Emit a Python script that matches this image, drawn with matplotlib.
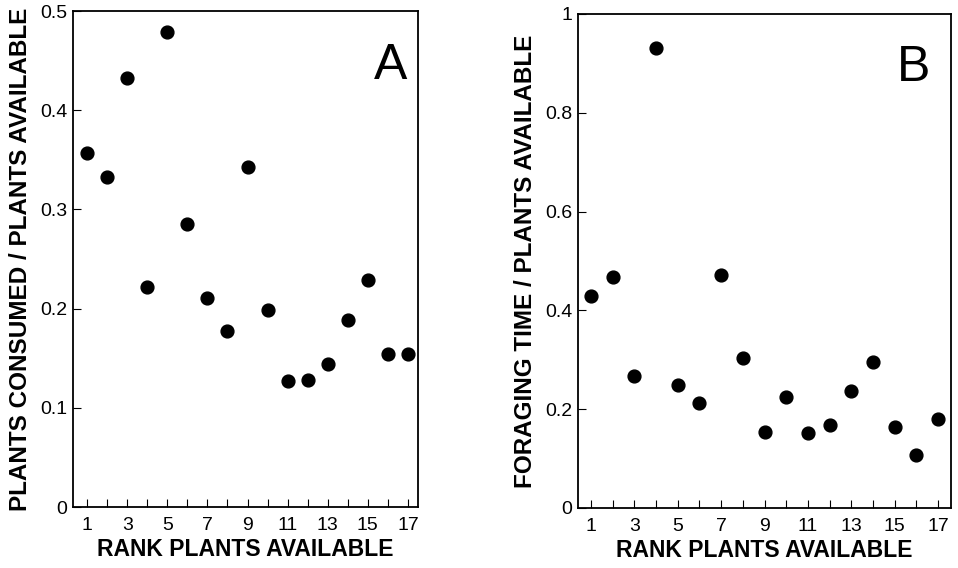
import matplotlib
matplotlib.use("Agg")
import matplotlib.pyplot as plt

plt.rcParams['font.family'] = ['Liberation Sans', 'DejaVu Sans']

rank = list(range(1, 18))
consumed_ratio = [0.357, 0.333, 0.432, 0.222, 0.479, 0.285, 0.211, 0.177, 0.343,
                  0.199, 0.127, 0.128, 0.144, 0.189, 0.229, 0.154, 0.154]
foraging_ratio = [0.430, 0.467, 0.267, 0.932, 0.249, 0.213, 0.472, 0.304, 0.153,
                  0.224, 0.151, 0.168, 0.236, 0.295, 0.164, 0.107, 0.181]

a_ticks = [0, 0.1, 0.2, 0.3, 0.4, 0.5]
a_ticklabels = ['0', '0.1', '0.2', '0.3', '0.4', '0.5']
b_ticks = [0, 0.2, 0.4, 0.6, 0.8, 1.0]
b_ticklabels = ['0', '0.2', '0.4', '0.6', '0.8', '1']

fig = plt.figure(figsize=(9.58, 5.68), dpi=100)
W, H = 958, 568
axA = fig.add_axes([73 / W, 1 - 507 / H, (418 - 73) / W, (507 - 11) / H])
axB = fig.add_axes([578 / W, 1 - 508 / H, (951 - 578) / W, (508 - 14) / H])


def style(ax, y, yticks, yticklabels, ylim, xlim, ylabel, letter, lpos):
    ax.scatter(rank, y, s=85, color='black', zorder=3)
    ax.set_xlim(*xlim)
    ax.set_ylim(*ylim)
    ax.set_xticks(rank)
    ax.set_xticklabels([str(r) if r % 2 == 1 else '' for r in rank])
    ax.set_yticks(yticks)
    ax.set_yticklabels(yticklabels)
    ax.tick_params(axis='both', direction='in', length=6, width=0.8, labelsize=14)
    ax.tick_params(axis='x', pad=7)
    ax.tick_params(axis='y', pad=4)
    for sp in ax.spines.values():
        sp.set_linewidth(1.3)
    ax.set_xlabel('RANK PLANTS AVAILABLE', fontsize=16.5, fontweight='bold', labelpad=3)
    ax.set_ylabel(ylabel, fontsize=17.5, fontweight='bold', labelpad=6)
    ax.text(lpos[0], lpos[1], letter, transform=ax.transAxes, fontsize=36,
            ha='center', va='center')


style(axA, consumed_ratio, a_ticks, a_ticklabels, (0, 0.5), (0.3, 17.5),
      'PLANTS CONSUMED / PLANTS AVAILABLE', 'A', (0.92, 0.89))
style(axB, foraging_ratio, b_ticks, b_ticklabels, (0, 1.0), (0.4, 17.6),
      'FORAGING TIME / PLANTS AVAILABLE', 'B', (0.90, 0.89))

fig.savefig('out.png', dpi=100)
